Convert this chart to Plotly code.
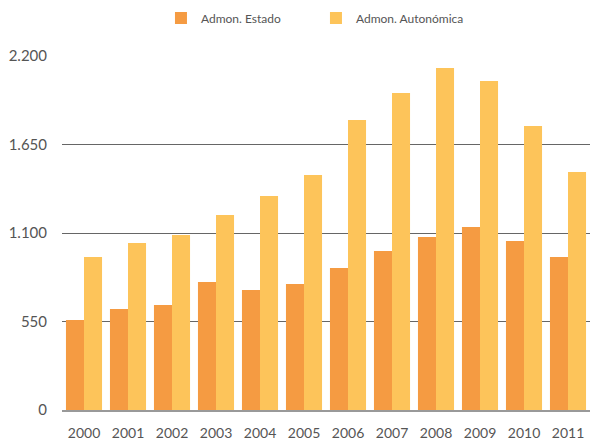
import plotly.graph_objects as go

years = ["2000", "2001", "2002", "2003", "2004", "2005",
         "2006", "2007", "2008", "2009", "2010", "2011"]
estado = [559, 628, 653, 796, 746, 783, 883, 988, 1075, 1137, 1050, 951]
autonomica = [951, 1038, 1088, 1212, 1330, 1460, 1802, 1970, 2126, 2045, 1765, 1479]
y_ticks = [0, 550, 1100, 1650, 2200]
y_labels = ["0", "550", "1.100", "1.650", "2.200"]

fig = go.Figure()
fig.add_trace(go.Bar(x=years, y=estado, name="Admon. Estado",
                     marker=dict(color="#F59B42", line=dict(width=0))))
fig.add_trace(go.Bar(x=years, y=autonomica, name="Admon. Autonómica",
                     marker=dict(color="#FDC45A", line=dict(width=0))))

fig.update_layout(
    width=590, height=442,
    margin=dict(l=62, r=0, t=56, b=32),
    plot_bgcolor="white", paper_bgcolor="white",
    barmode="group", bargap=0.18, bargroupgap=0,
    font=dict(family="Lato, Open Sans, sans-serif", color="#555555", size=14),
    legend=dict(orientation="h", x=0.481, xanchor="center", y=1 - 18 / 442, yanchor="middle",
                yref="container", font=dict(size=12, color="#555555"),
                entrywidth=110, itemwidth=30),
    xaxis=dict(showgrid=False, showline=True, linecolor="#999999", linewidth=2,
               ticks="", tickfont=dict(size=14), ticklabelstandoff=9),
    yaxis=dict(range=[0, 2200], tickvals=y_ticks, ticktext=y_labels,
               showgrid=True, gridcolor="#666666", gridwidth=1,
               zeroline=False, showline=False, ticks="", ticklabelstandoff=14,
               tickfont=dict(size=15)),
)

# page body has a default 8px margin; drop it so the figure sits at the corner
fig.write_html("out.html", config={"displayModeBar": False},
               post_script="document.body.style.margin='0';")
